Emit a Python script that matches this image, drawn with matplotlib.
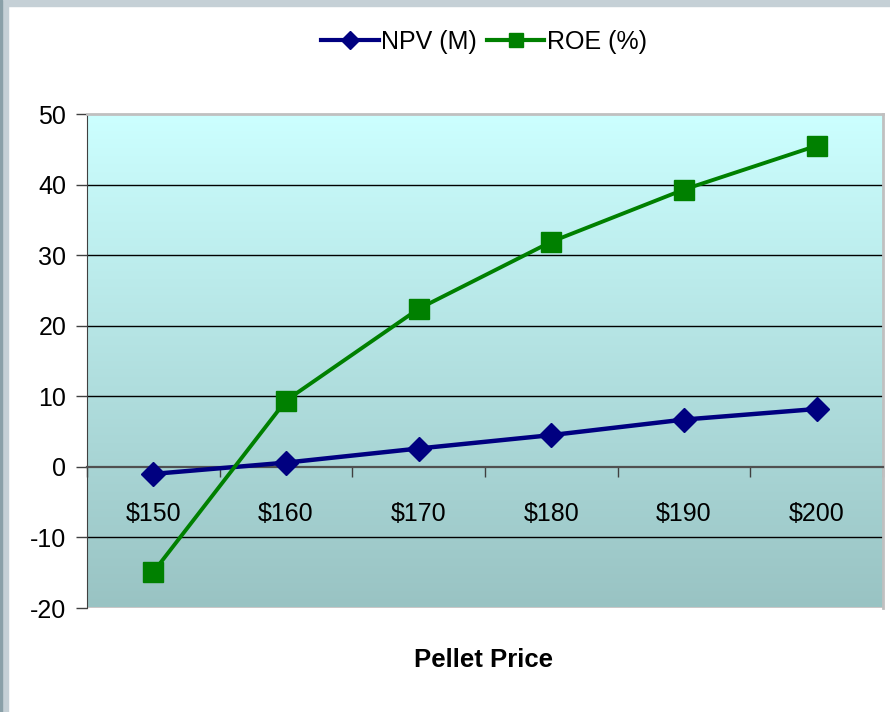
import numpy as np
import matplotlib
matplotlib.use("Agg")
import matplotlib.pyplot as plt
from matplotlib.lines import Line2D
from matplotlib.patches import Rectangle
from matplotlib.colors import LinearSegmentedColormap

prices = ["$150", "$160", "$170", "$180", "$190", "$200"]
npv = [-1.0, 0.6, 2.6, 4.5, 6.7, 8.2]
roe = [-14.9, 9.4, 22.4, 31.9, 39.3, 45.5]
y_ticks = [-20, -10, 0, 10, 20, 30, 40, 50]

plt.rcParams['font.family'] = ['Liberation Sans', 'DejaVu Sans']
plt.rcParams['axes.unicode_minus'] = False

fig = plt.figure(figsize=(8.9, 7.12), dpi=100)
ax = fig.add_axes([87 / 890, 1 - 608 / 712, 796 / 890, 494 / 712])

# frame strips of the slide
fig.patches.append(Rectangle((0, 1 - 6 / 712), 1, 6 / 712, transform=fig.transFigure,
                             color="#c5d0d6", zorder=0))
fig.patches.append(Rectangle((0, 0), 8 / 890, 1, transform=fig.transFigure,
                             color="#c5d0d6", zorder=0))
fig.patches.append(Rectangle((0, 0), 2 / 890, 1, transform=fig.transFigure,
                             color="#8aa0a8", zorder=0))

x = np.arange(len(prices))

# gradient background
cmap = LinearSegmentedColormap.from_list("bg", ["#99c3c3", "#ccffff"])
grad = np.linspace(0, 1, 256).reshape(-1, 1)
ax.imshow(grad, cmap=cmap, origin="lower", aspect="auto",
          extent=[-0.5, len(prices) - 0.5, -20, 50], zorder=0)

for v in y_ticks:
    if v not in (0, -20, 50):
        ax.axhline(v, color="black", lw=1, zorder=1)

ax.plot(x, npv, color="#000080", lw=3.2, marker="D", ms=12, zorder=3, clip_on=False)
ax.plot(x, roe, color="#008000", lw=2.8, marker="s", ms=14, zorder=3, clip_on=False)

ax.set_xlim(-0.5, len(prices) - 0.5)
ax.set_ylim(-20, 50)
ax.set_yticks(y_ticks)
ax.tick_params(axis="y", length=8, width=1, color="#404040", labelsize=18, pad=7)

ax.spines["bottom"].set_position(("data", 0))
ax.spines["bottom"].set_color("#505050")
ax.spines["bottom"].set_linewidth(1.6)
ax.spines["left"].set_color("#404040")
ax.spines["top"].set_color("#c0c0c0")
ax.spines["right"].set_color("#c0c0c0")
ax.spines["top"].set_linewidth(2)
ax.spines["right"].set_linewidth(2)
ax.axhline(-20, color="#d0c8c8", lw=2, zorder=2)

ax.set_xticks(x)
ax.set_xticklabels(prices)
ax.set_xticks(np.arange(len(prices) + 1) - 0.5, minor=True)
ax.tick_params(axis="x", which="major", length=0, labelsize=18, pad=25)
ax.tick_params(axis="x", which="minor", length=7, width=1, color="#404040", direction="out")

fig.text(483 / 890, 1 - 660 / 712, "Pellet Price", ha="center", va="center",
         fontsize=18.5, fontweight="bold")

handles = [
    Line2D([], [], color="#000080", lw=3, marker="D", ms=9),
    Line2D([], [], color="#008000", lw=3, marker="s", ms=10),
]
fig.legend(handles, ["NPV (M)", "ROE (%)"], loc="center", bbox_to_anchor=(484 / 890, 1 - 42 / 712),
           ncol=2, frameon=False, fontsize=18, handlelength=2.3, handletextpad=0.1,
           columnspacing=0.4)

fig.savefig("out.png", dpi=100)
